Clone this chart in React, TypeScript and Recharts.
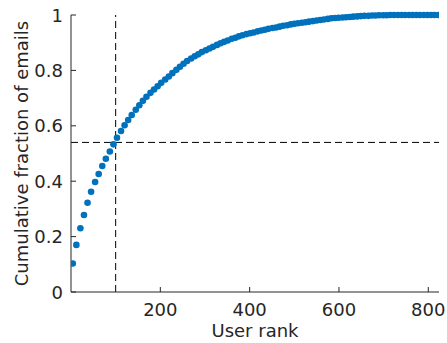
import React from 'react';
import {
  ScatterChart,
  Scatter,
  XAxis,
  YAxis,
  ReferenceLine,
  Label,
} from 'recharts';

// User rank of each sampled point
const ranks: number[] = [
  4, 12, 21, 29, 37, 45, 54, 62, 70, 78,
  87, 95, 103, 112, 120, 128, 136, 145, 153, 161,
  169, 178, 186, 194, 202, 211, 219, 227, 236, 244,
  252, 260, 269, 277, 285, 293, 302, 310, 318, 327,
  335, 343, 351, 360, 368, 376, 384, 393, 401, 409,
  418, 426, 434, 442, 451, 459, 467, 475, 484, 492,
  500, 508, 517, 525, 533, 542, 550, 558, 566, 575,
  583, 591, 599, 608, 616, 624, 632, 641, 649, 657,
  666, 674, 682, 690, 699, 707, 715, 723, 732, 740,
  748, 757, 765, 773, 781, 790, 798, 806, 814, 823,
];

// Cumulative fraction of emails sent by the top-ranked users
const fractions: number[] = [
  0.103, 0.17, 0.23, 0.278, 0.322, 0.362, 0.397, 0.426, 0.455, 0.481,
  0.507, 0.533, 0.557, 0.581, 0.602, 0.621, 0.639, 0.658, 0.674, 0.69,
  0.705, 0.719, 0.731, 0.743, 0.755, 0.767, 0.778, 0.79, 0.802, 0.813,
  0.824, 0.834, 0.843, 0.851, 0.858, 0.866, 0.873, 0.879, 0.885, 0.892,
  0.898, 0.903, 0.908, 0.914, 0.918, 0.923, 0.927, 0.931, 0.934, 0.937,
  0.941, 0.944, 0.947, 0.95, 0.953, 0.955, 0.958, 0.961, 0.963, 0.966,
  0.968, 0.97, 0.972, 0.974, 0.976, 0.978, 0.98, 0.982, 0.984, 0.986,
  0.988, 0.989, 0.99, 0.991, 0.992, 0.993, 0.994, 0.995, 0.996, 0.997,
  0.997, 0.998, 0.998, 0.999, 0.999, 0.999, 1, 1, 1, 1,
  1, 1, 1, 1, 1, 1, 1, 1, 1, 1,
];

const xTicks: number[] = [200, 400, 600, 800];
const yTicks: number[] = [0, 0.2, 0.4, 0.6, 0.8, 1];

// Highlighted rank and the fraction it reaches
const markerRank = 100;
const markerFraction = 0.54;

const data = ranks.map((rank, i) => ({ rank, fraction: fractions[i] }));

const FONT = '"DejaVu Sans", sans-serif';
const INK = '#262626';
const BLUE = '#0072BD';
const TICK_LEN = 5;

const YTick = (props: any) => {
  const { x, y, payload } = props;
  const axisX = x + 8;
  return (
    <g>
      <line x1={axisX} y1={y} x2={axisX + TICK_LEN} y2={y} stroke={INK} strokeWidth={1} />
      <text x={x} y={y} dy={6.5} textAnchor="end" fontFamily={FONT} fontSize={18} fill={INK}>
        {String(payload.value)}
      </text>
    </g>
  );
};

const XTick = (props: any) => {
  const { x, y, payload } = props;
  const axisY = y - 8;
  return (
    <g>
      <line x1={x} y1={axisY} x2={x} y2={axisY - TICK_LEN} stroke={INK} strokeWidth={1} />
      <text x={x} y={y + 16} textAnchor="middle" fontFamily={FONT} fontSize={18} fill={INK}>
        {String(payload.value)}
      </text>
    </g>
  );
};

const Dot = (props: any) => (
  <circle cx={props.cx} cy={props.cy} r={3.3} fill={BLUE} />
);

export default function App() {
  return (
    <div style={{ position: 'absolute', left: 0, top: 0, background: '#fff' }}>
      <ScatterChart
        width={447}
        height={343}
        margin={{ top: 15, right: 8, bottom: 0, left: 0 }}
      >
        <XAxis
          type="number"
          dataKey="rank"
          domain={[0, 824]}
          ticks={xTicks}
          allowDataOverflow
          height={51}
          tickSize={0}
          tickMargin={8}
          tickLine={false}
          axisLine={{ stroke: INK, strokeWidth: 1 }}
          tick={<XTick />}
          interval={0}
        >
          <Label
            content={(p: any) => {
              const vb = p.viewBox || { x: 71, y: 292, width: 368, height: 51 };
              return (
                <text
                  x={vb.x + vb.width / 2}
                  y={vb.y + 45}
                  textAnchor="middle"
                  fontFamily={FONT}
                  fontSize={18}
                  fill={INK}
                >
                  User rank
                </text>
              );
            }}
          />
        </XAxis>
        <YAxis
          type="number"
          dataKey="fraction"
          domain={[0, 1]}
          ticks={yTicks}
          width={71}
          tickSize={0}
          tickMargin={8}
          tickLine={false}
          axisLine={{ stroke: INK, strokeWidth: 1 }}
          tick={<YTick />}
          interval={0}
        >
          <Label
            content={(p: any) => {
              const vb = p.viewBox || { x: 0, y: 15, width: 71, height: 277 };
              const cx = vb.x + 28;
              const cy = vb.y + vb.height / 2;
              return (
                <text
                  x={cx}
                  y={cy}
                  transform={`rotate(-90 ${cx} ${cy})`}
                  textAnchor="middle"
                  fontFamily={FONT}
                  fontSize={18}
                  fill={INK}
                >
                  Cumulative fraction of emails
                </text>
              );
            }}
          />
        </YAxis>
        <Scatter data={data} shape={<Dot />} isAnimationActive={false} />
        <ReferenceLine x={markerRank} stroke="#000" strokeWidth={1} strokeDasharray="7 4" />
        <ReferenceLine y={markerFraction} stroke="#000" strokeWidth={1} strokeDasharray="7 4" />
      </ScatterChart>
    </div>
  );
}
